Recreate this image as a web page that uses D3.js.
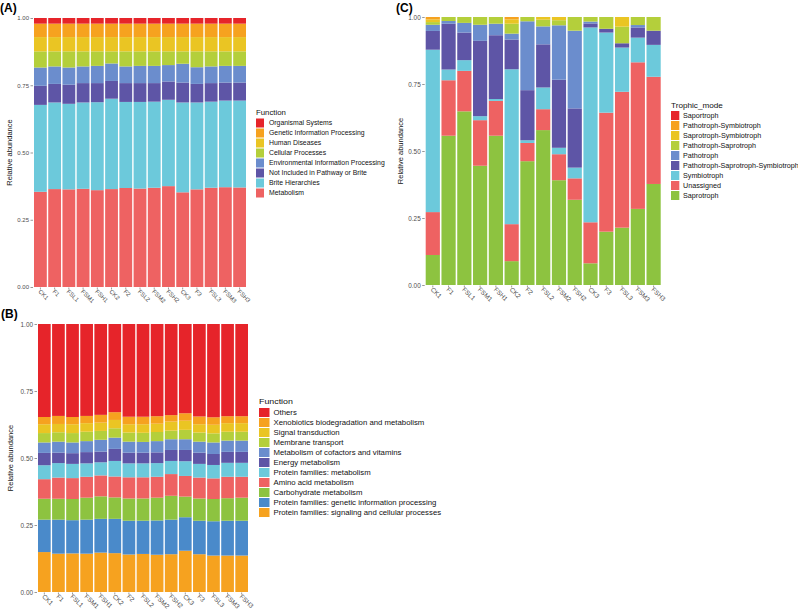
<!DOCTYPE html>
<html><head><meta charset="utf-8">
<script src="https://cdn.jsdelivr.net/npm/d3@7"></script>
<style>body{margin:0;background:#fff}svg{font-family:"Liberation Sans",Arial,sans-serif}</style>
</head><body><svg id="c" width="798" height="611"></svg>
<script>
const samples = ["CK1","F1","FSL1","FSM1","FSH1","CK2","F2","FSL2","FSM2","FSH2","CK3","F3","FSL3","FSM3","FSH3"];
const yTicks = [0, 0.25, 0.5, 0.75, 1];

// Panel A (KEGG level 1), bottom to top
const seriesA = ["Metabolism","Brite Hierarchies","Not Included in Pathway or Brite","Environmental Information Processing","Cellular Processes","Human Diseases","Genetic Information Processing","Organismal Systems"];
const a_metabolism = [0.354,0.364,0.363,0.365,0.360,0.364,0.368,0.366,0.369,0.375,0.352,0.363,0.369,0.371,0.370];
const a_brite = [0.323,0.322,0.318,0.321,0.327,0.336,0.320,0.322,0.320,0.321,0.334,0.323,0.320,0.322,0.323];
const a_notIncluded = [0.071,0.069,0.071,0.072,0.071,0.066,0.070,0.070,0.069,0.068,0.074,0.069,0.069,0.067,0.067];
const a_environmental = [0.068,0.065,0.064,0.062,0.064,0.065,0.062,0.064,0.064,0.061,0.070,0.062,0.062,0.062,0.062];
const a_cellular = [0.060,0.056,0.060,0.056,0.054,0.045,0.056,0.054,0.054,0.051,0.046,0.059,0.056,0.054,0.054];
const a_human = [0.053,0.053,0.053,0.053,0.053,0.053,0.053,0.053,0.053,0.053,0.053,0.053,0.053,0.053,0.053];
const a_genetic = [0.050,0.050,0.050,0.050,0.050,0.050,0.050,0.050,0.050,0.050,0.050,0.050,0.050,0.050,0.050];
const a_organismal = [0.021,0.021,0.021,0.021,0.021,0.021,0.021,0.021,0.021,0.021,0.021,0.021,0.021,0.021,0.021];
const colorsA = ["#EE6262","#6CC9DB","#5E55A6","#6B8DCD","#B4CF3B","#EAC523","#F6A21F","#E6242A"];

// Panel B (KEGG level 2), bottom to top
const seriesB = ["Protein families: signaling and cellular processes","Protein families: genetic information processing","Carbohydrate metabolism","Amino acid metabolism","Protein families: metabolism","Energy metabolism","Metabolism of cofactors and vitamins","Membrane transport","Signal transduction","Xenobiotics biodegradation and metabolism","Others"];
const b_signaling = [0.149,0.143,0.144,0.143,0.147,0.145,0.140,0.142,0.139,0.141,0.154,0.141,0.136,0.136,0.136];
const b_genetic = [0.121,0.127,0.124,0.127,0.126,0.128,0.126,0.124,0.128,0.129,0.125,0.125,0.128,0.130,0.130];
const b_carbohydrate = [0.078,0.078,0.079,0.082,0.084,0.080,0.083,0.083,0.085,0.089,0.077,0.083,0.083,0.084,0.086];
const b_amino = [0.073,0.079,0.078,0.078,0.078,0.078,0.079,0.079,0.078,0.081,0.077,0.078,0.077,0.080,0.078];
const b_proteinMet = [0.052,0.054,0.053,0.050,0.049,0.058,0.052,0.052,0.051,0.049,0.055,0.051,0.050,0.052,0.052];
const b_energy = [0.046,0.039,0.040,0.042,0.040,0.045,0.040,0.040,0.040,0.041,0.042,0.042,0.041,0.041,0.041];
const b_cofactors = [0.039,0.041,0.040,0.041,0.044,0.042,0.041,0.040,0.042,0.040,0.040,0.041,0.043,0.042,0.042];
const b_membrane = [0.035,0.035,0.035,0.035,0.033,0.035,0.034,0.034,0.034,0.032,0.035,0.034,0.034,0.033,0.033];
const b_signalTrans = [0.033,0.031,0.033,0.032,0.031,0.031,0.031,0.032,0.031,0.034,0.034,0.031,0.032,0.032,0.032];
const b_xenobiotics = [0.027,0.030,0.027,0.027,0.029,0.029,0.028,0.028,0.028,0.024,0.028,0.029,0.028,0.026,0.026];
const b_others = [0.347,0.343,0.347,0.343,0.339,0.329,0.346,0.346,0.344,0.340,0.333,0.345,0.348,0.344,0.344];
const colorsB = ["#F6A21F","#4A8ACA","#8DC340","#EE6262","#6CC9DB","#5E55A6","#6B8DCD","#B4CF3B","#EAC523","#F6A21F","#E6242A"];

// Panel C (FUNGuild trophic mode), bottom to top
const seriesC = ["Saprotroph","Unassigned","Symbiotroph","Pathotroph-Saprotroph-Symbiotroph","Pathotroph","Pathotroph-Saprotroph","Saprotroph-Symbiotroph","Pathotroph-Symbiotroph","Saportroph"];
const c_saprotroph = [0.112,0.557,0.648,0.445,0.557,0.089,0.462,0.578,0.391,0.318,0.081,0.199,0.214,0.284,0.377];
const c_unassigned = [0.160,0.207,0.151,0.170,0.130,0.138,0.068,0.078,0.097,0.080,0.153,0.444,0.507,0.547,0.400];
const c_symbiotroph = [0.606,0.040,0.040,0.015,0.007,0.578,0.010,0.081,0.024,0.040,0.727,0.299,0.165,0.092,0.119];
const c_pss = [0.070,0.171,0.103,0.281,0.238,0.111,0.187,0.161,0.254,0.221,0.015,0.014,0.016,0.038,0.053];
const c_pathotroph = [0.023,0.010,0.036,0.060,0.043,0.022,0.257,0.067,0.203,0.290,0.007,0.000,0.000,0.009,0.000];
const c_ps = [0.010,0.015,0.022,0.029,0.025,0.037,0.016,0.025,0.019,0.051,0.017,0.044,0.062,0.030,0.051];
const c_ss = [0.010,0.000,0.000,0.000,0.000,0.016,0.000,0.010,0.012,0.000,0.000,0.000,0.036,0.000,0.000];
const c_psym = [0.009,0.000,0.000,0.000,0.000,0.009,0.000,0.000,0.000,0.000,0.000,0.000,0.000,0.000,0.000];
const c_saportroph = [0,0,0,0,0,0,0,0,0,0,0,0,0,0,0];
const colorsC = ["#8DC340","#EE6262","#6CC9DB","#5E55A6","#6B8DCD","#B4CF3B","#EAC523","#F6A21F","#E6242A"];

const svg = d3.select("#c");

function panel(o) {
  const rows = samples.map((s, i) => {
    const r = {sample: s};
    o.series.forEach((k, j) => r[k] = o.values[j][i]);
    return r;
  });
  const stack = d3.stack().keys(o.series)(rows);
  const x = d3.scaleBand().domain(samples).range([o.x0, o.x1]).paddingInner(0.1).paddingOuter(0);
  const y = d3.scaleLinear().domain([0, 1]).range([o.y1, o.y0]);
  const color = d3.scaleOrdinal().domain(o.series).range(o.colors);
  const g = svg.append("g");
  g.selectAll("g.s").data(stack).join("g").attr("fill", d => color(d.key))
    .selectAll("rect").data(d => d).join("rect")
    .attr("x", d => x(d.data.sample)).attr("width", x.bandwidth())
    .attr("y", d => y(d[1])).attr("height", d => Math.max(0, y(d[0]) - y(d[1])));
  // y axis
  const ya = g.append("g").attr("transform", `translate(${o.x0 - 1},0)`)
    .call(d3.axisLeft(y).tickValues(yTicks).tickFormat(d3.format(".2f")).tickSize(2.5).tickPadding(1.5));
  ya.select(".domain").remove();
  ya.selectAll("line").attr("stroke", "#333").attr("stroke-width", 0.5);
  ya.selectAll("text").attr("font-size", o.tickFs).attr("fill", "#4D4D4D").attr("font-family", "Liberation Sans, Arial, sans-serif");
  // x axis
  const xa = g.append("g").attr("transform", `translate(0,${o.y1 + 0.5})`)
    .call(d3.axisBottom(x).tickSize(2).tickPadding(1));
  xa.select(".domain").remove();
  xa.selectAll("line").attr("stroke", "#333").attr("stroke-width", 0.5);
  xa.selectAll("text").attr("font-size", o.tickFs).attr("fill", "#4D4D4D")
    .attr("font-family", "Liberation Sans, Arial, sans-serif")
    .attr("text-anchor", "start").attr("dy", 0).attr("y", 0)
    .attr("transform", "translate(-2.5,4.5) rotate(45)");
  // y title
  g.append("text").attr("transform", `translate(${o.titleX},${(o.y0 + o.y1) / 2}) rotate(-90)`)
    .attr("text-anchor", "middle").attr("font-size", 7.5).attr("fill", "#111").text("Relative abundance");
  // panel label
  g.append("text").attr("x", o.labX).attr("y", o.labY).attr("font-size", 12).attr("font-weight", "bold").text(o.label);
  // legend
  const lg = g.append("g");
  lg.append("text").attr("transform", `translate(${o.legX},${o.legY}) scale(${o.sx},1)`)
    .attr("font-size", 7.5).attr("fill", "#111").text(o.legTitle);
  const items = o.series.slice().reverse();
  items.forEach((k, i) => {
    const cy = o.legY + o.legFirst + i * 10;
    lg.append("rect").attr("x", o.legX).attr("y", cy - 4.5).attr("width", o.keyW).attr("height", 9).attr("fill", color(k));
    lg.append("text").attr("transform", `translate(${o.legX + o.keyW + o.legGap},${cy + 2.3}) scale(${o.sx},1)`)
      .attr("font-size", 6.6).attr("fill", "#111").text(k);
  });
}

panel({series: seriesA, values: [a_metabolism,a_brite,a_notIncluded,a_environmental,a_cellular,a_human,a_genetic,a_organismal],
  colors: colorsA, x0: 34, x1: 246, y0: 18, y1: 287, titleX: 12, label: "(A)", labX: 0, labY: 12,
  legX: 256, legY: 115, legFirst: 8, keyW: 8, legGap: 5, legTitle: "Function", sx: 1.04, tickFs: 6});
panel({series: seriesB, values: [b_signaling,b_genetic,b_carbohydrate,b_amino,b_proteinMet,b_energy,b_cofactors,b_membrane,b_signalTrans,b_xenobiotics,b_others],
  colors: colorsB, x0: 38, x1: 248, y0: 324, y1: 592, titleX: 13, label: "(B)", labX: 1, labY: 318,
  legX: 259, legY: 404, legFirst: 8.5, keyW: 10.5, legGap: 4, legTitle: "Function", sx: 1.18, tickFs: 6.4});
panel({series: seriesC, values: [c_saprotroph,c_unassigned,c_symbiotroph,c_pss,c_pathotroph,c_ps,c_ss,c_psym,c_saportroph],
  colors: colorsC, x0: 425.7, x1: 660.7, y0: 17, y1: 285, titleX: 403, label: "(C)", labX: 396, labY: 12,
  legX: 671, legY: 108, legFirst: 7.5, keyW: 8.3, legGap: 3.7, legTitle: "Trophic_mode", sx: 1.09, tickFs: 6.4});
</script></body></html>
